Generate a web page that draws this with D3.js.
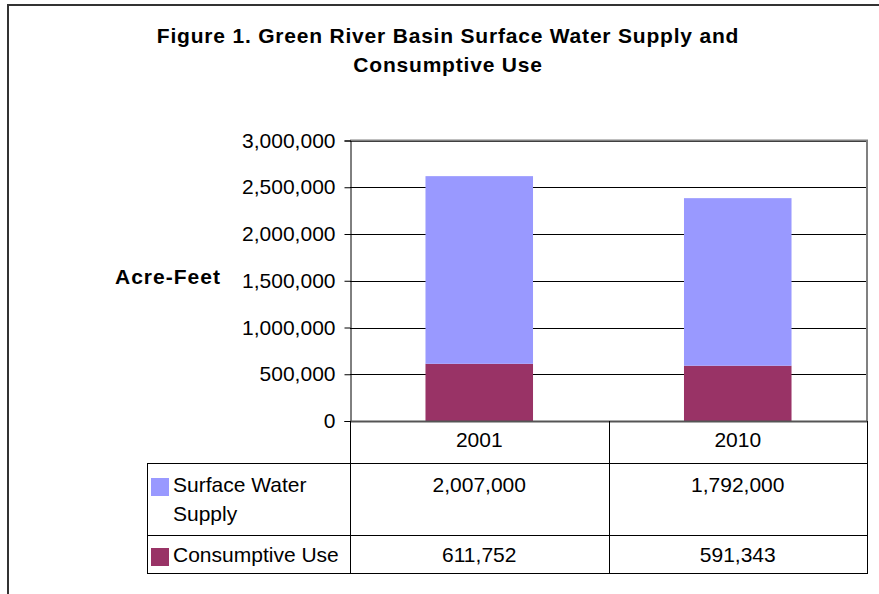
<!DOCTYPE html>
<html>
<head>
<meta charset="utf-8">
<script src="https://cdn.jsdelivr.net/npm/d3@7"></script>
<style>
  body { margin: 0; background: #fff; }
  svg { display: block; font-family: "Liberation Sans", Arial, sans-serif; }
</style>
</head>
<body>
<svg id="chart" width="879" height="594"></svg>
<script>
const categories = ["2001", "2010"];
const surfaceWater = [2007000, 1792000];
const consumptiveUse = [611752, 591343];
const seriesLabels = [["Surface Water", "Supply"], ["Consumptive Use"]];
const yTicks = [0, 500000, 1000000, 1500000, 2000000, 2500000, 3000000];
const titleLines = ["Figure 1. Green River Basin Surface Water Supply and", "Consumptive Use"];

const colors = { surface: "#9999ff", consumptive: "#993366" };

const svg = d3.select("#chart");
const plot = { left: 350, right: 867, top: 140.5, bottom: 421 };
const table = { left: 147, rows: [421, 463, 535, 573] };

// outer frame, runs off the right and bottom of the picture
svg.append("rect")
  .attr("x", 8).attr("y", 5)
  .attr("width", 900).attr("height", 620)
  .attr("fill", "none").attr("stroke", "#333").attr("stroke-width", 2);

// title
svg.append("text")
  .attr("text-anchor", "middle")
  .attr("font-weight", "bold")
  .attr("font-size", 21)
  .attr("letter-spacing", 0.8)
  .selectAll("tspan")
  .data(titleLines)
  .join("tspan")
  .attr("x", 448)
  .attr("y", (d, i) => 43 + i * 29)
  .text((d) => d);

const x = d3.scaleBand()
  .domain(categories)
  .range([plot.left, plot.right])
  .paddingInner(0.584)
  .paddingOuter(0.292);

const xCol = d3.scaleBand().domain(categories).range([plot.left, plot.right]);

const y = d3.scaleLinear().domain([0, 3000000]).range([plot.bottom, plot.top]);

// gridlines
svg.append("g")
  .selectAll("line")
  .data(yTicks.filter((d) => d > 0))
  .join("line")
  .attr("x1", plot.left).attr("x2", plot.right)
  .attr("y1", (d) => Math.round(y(d)) + 0.5)
  .attr("y2", (d) => Math.round(y(d)) + 0.5)
  .attr("stroke", "#000").attr("stroke-width", 1);

// stacked bars
const rows = categories.map((c, i) => ({
  label: c,
  consumptive: consumptiveUse[i],
  surface: surfaceWater[i],
}));
const stack = d3.stack().keys(["consumptive", "surface"])(rows);

svg.append("g")
  .selectAll("g")
  .data(stack)
  .join("g")
  .attr("fill", (s) => colors[s.key])
  .selectAll("rect")
  .data((s) => s)
  .join("rect")
  .attr("x", (d) => x(d.data.label))
  .attr("y", (d) => y(d[1]))
  .attr("width", x.bandwidth())
  .attr("height", (d) => y(d[0]) - y(d[1]));

// plot border (top and right)
svg.append("path")
  .attr("d", `M${plot.left},${plot.top}H${plot.right}V${plot.bottom}`)
  .attr("fill", "none").attr("stroke", "#808080").attr("stroke-width", 2);

// y axis
const yAxis = d3.axisLeft(y)
  .tickValues(yTicks)
  .tickFormat(d3.format(","))
  .tickSize(6)
  .tickPadding(9);

svg.append("g")
  .attr("transform", `translate(${plot.left + 0.5},0)`)
  .call(yAxis)
  .call((g) => g.select(".domain").attr("stroke", "#000"))
  .call((g) => g.selectAll(".tick line").attr("stroke", "#000"))
  .call((g) => g.selectAll("text")
    .attr("font-family", "Liberation Sans, Arial, sans-serif")
    .attr("font-size", 21)
    .attr("fill", "#000"));

// axis title
svg.append("text")
  .attr("x", 115).attr("y", 284)
  .attr("font-weight", "bold")
  .attr("font-size", 21)
  .attr("letter-spacing", 1)
  .text("Acre-Feet");

// data table
const tg = svg.append("g").attr("stroke", "#000").attr("stroke-width", 1).attr("fill", "none");
const colEdges = [plot.left, ...categories.map((c) => xCol(c) + xCol.bandwidth())];

// horizontal rules
tg.append("line")
  .attr("x1", plot.left).attr("x2", plot.right)
  .attr("y1", table.rows[0] + 0.5).attr("y2", table.rows[0] + 0.5)
  .attr("stroke", "#555").attr("stroke-width", 2);
table.rows.slice(1).forEach((ry) => {
  tg.append("line")
    .attr("x1", table.left).attr("x2", plot.right)
    .attr("y1", ry + 0.5).attr("y2", ry + 0.5);
});
// vertical rules
colEdges.forEach((cx) => {
  tg.append("line")
    .attr("x1", Math.round(cx) + 0.5).attr("x2", Math.round(cx) + 0.5)
    .attr("y1", table.rows[0]).attr("y2", table.rows[3] + 1);
});
tg.append("line")
  .attr("x1", table.left + 0.5).attr("x2", table.left + 0.5)
  .attr("y1", table.rows[1]).attr("y2", table.rows[3] + 1);

// header row: categories
svg.append("g")
  .selectAll("text")
  .data(categories)
  .join("text")
  .attr("x", (d) => xCol(d) + xCol.bandwidth() / 2)
  .attr("y", 447)
  .attr("text-anchor", "middle")
  .attr("font-size", 21)
  .text((d) => d);

// value rows
const tableSeries = [
  { key: "surface", values: surfaceWater, baseline: 492 },
  { key: "consumptive", values: consumptiveUse, baseline: 562 },
];
tableSeries.forEach((s, si) => {
  svg.append("g")
    .selectAll("text")
    .data(s.values)
    .join("text")
    .attr("x", (d, i) => xCol(categories[i]) + xCol.bandwidth() / 2)
    .attr("y", s.baseline)
    .attr("text-anchor", "middle")
    .attr("font-size", 21)
    .text((d) => d3.format(",")(d));

  // legend key and label
  svg.append("rect")
    .attr("x", 151).attr("y", s.baseline - 14)
    .attr("width", 18).attr("height", 18)
    .attr("fill", colors[s.key]);

  svg.append("text")
    .attr("font-size", 21)
    .selectAll("tspan")
    .data(seriesLabels[si])
    .join("tspan")
    .attr("x", 173)
    .attr("y", (d, i) => s.baseline + i * 29)
    .text((d) => d);
});
</script>
</body>
</html>
